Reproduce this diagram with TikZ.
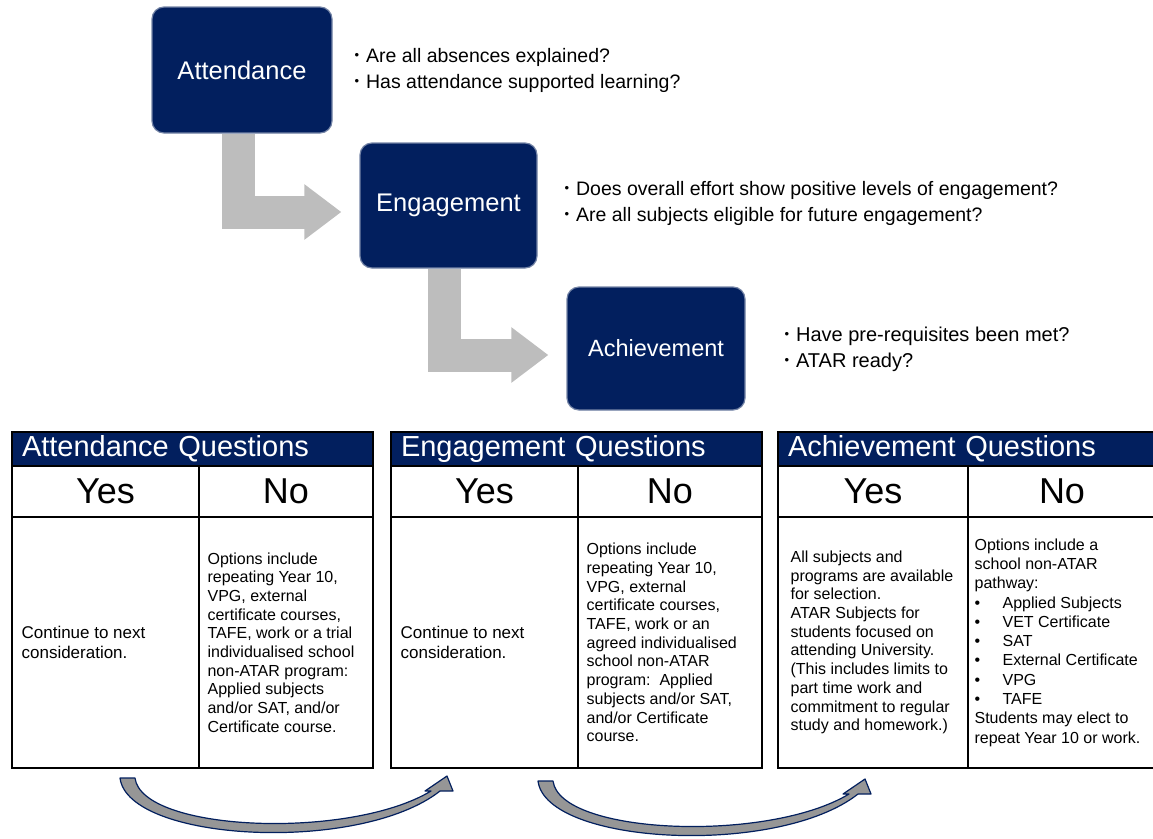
\documentclass[tikz,border=0pt]{standalone}
\usepackage{fontspec}
\setmainfont{Liberation Sans}
\usetikzlibrary{arrows.meta}

\definecolor{boxblue}{RGB}{2,31,94}
\definecolor{bendgrey}{RGB}{150,150,150}
\newcommand{\qdot}{\raisebox{2.5pt}{\fontsize{13}{13}\selectfont\textbullet}\hspace{7pt}}
\newcommand{\ldot}{\makebox[28pt][l]{\textbullet}}

\begin{document}
\begin{tikzpicture}[x=1pt, y=-1pt,
    stage/.style ={
        rectangle,
        rounded corners=12pt,
        fill=boxblue,
        draw=boxblue!55!white,
        line width=1.2pt,
        text=white,
        minimum width=178pt,
        minimum height=125pt
    },
    ask/.style ={
        anchor=west,
        align=left,
        font=\fontsize{19.5}{26}\selectfont
    },
    lshape/.style ={
        draw=black!26,
        line width=33pt,
        line join=miter,
        shorten >=18pt,
        -{Triangle[width=53pt,length=37pt]}
    },
    headbar/.style ={
        rectangle,
        fill=boxblue,
        draw=black,
        line width=1.2pt,
        text=white,
        align=left,
        inner sep=0pt,
        minimum height=34pt,
        font=\fontsize{29}{30}\selectfont
    },
    cell/.style ={
        rectangle,
        draw=black,
        line width=1.2pt,
        inner sep=0pt
    },
    yesno/.style ={
        cell,
        minimum height=51pt,
        font=\fontsize{36}{38}\selectfont
    },
    body/.style ={
        anchor=west,
        align=left,
        inner sep=0pt,
        font=\fontsize{16}{18.7}\selectfont
    },
    sweep/.style ={
        fill=bendgrey,
        draw=boxblue,
        line width=1.2pt,
        line join=round
    }
    ]
    \useasboundingbox (0,0) rectangle (1153,838);

    % stages
    \node[stage, minimum width=180pt, minimum height=126pt, font=\fontsize{25.5}{26}\selectfont] (att) at (242,70) {Attendance};
    \node[stage, minimum width=177pt, font=\fontsize{25.5}{26}\selectfont] (eng) at (448.5,205.5) {Engagement};
    \node[stage, minimum height=123pt, font=\fontsize{23.5}{24}\selectfont] (ach) at (656,348.5) {Achievement};

    \node[ask] (attq) at (351,70) {\qdot Are all absences explained?\\\qdot Has attendance supported learning?};
    \node[ask] (engq) at (561,203) {\qdot Does overall effort show positive levels of engagement?\\\qdot Are all subjects eligible for future engagement?};
    \node[ask, font=\fontsize{20}{26}\selectfont] (achq) at (781,349) {\qdot Have pre-requisites been met?\\\qdot ATAR ready?};

    \draw[lshape] ([xshift=-4pt]att.south) |- ([yshift=-6.5pt]eng.west);
    \draw[lshape] ([xshift=-4pt]eng.south) |- ([yshift=-6.5pt]ach.west);

    % question tables
    \foreach \n/\l/\d/\r/\title in {a/12/199/373/Attendance, e/391/578/762/Engagement,
                                    c/778/968/1156/Achievement} {
        \node[headbar, minimum width={(\r-\l)*1pt}, text width={(\r-\l-20)*1pt}] (h\n) at ({(\l+\r)/2},449) {\title\ Questions};
        \node[yesno, minimum width={(\d-\l)*1pt}] (y\n) at ({(\l+\d)/2},491.5) {Yes};
        \node[yesno, minimum width={(\r-\d)*1pt}] (n\n) at ({(\d+\r)/2},491.5) {No};
        \node[cell, minimum width={(\d-\l)*1pt}, minimum height=251pt] (by\n) at ({(\l+\d)/2},642.5) {};
        \node[cell, minimum width={(\r-\d)*1pt}, minimum height=251pt] (bn\n) at ({(\d+\r)/2},642.5) {};
    }

    \node[body, font=\fontsize{17}{19.5}\selectfont] (ay) at ([xshift=10pt]bya.west) {Continue to next\\consideration.};
    \node[body] (an) at ([xshift=9pt]bna.west) {Options include\\repeating Year 10,\\VPG, external\\certificate courses,\\TAFE, work or a trial\\individualised school\\non-ATAR program:\\Applied subjects\\and/or SAT, and/or\\Certificate course.};
    \node[body, font=\fontsize{17}{19.5}\selectfont] (ey) at ([xshift=10pt]bye.west) {Continue to next\\consideration.};
    \node[body] (en) at ([xshift=9pt]bne.west) {Options include\\repeating Year 10,\\VPG, external\\certificate courses,\\TAFE, work or an\\agreed individualised\\school non-ATAR\\program:\ \ Applied\\subjects and/or SAT,\\and/or Certificate\\course.};
    \node[body] (cy) at ([xshift=13pt]byc.west) {All subjects and\\programs are available\\for selection.\\ATAR Subjects for\\students focused on\\attending University.\\(This includes limits to\\part time work and\\commitment to regular\\study and homework.)};
    \node[body, font=\fontsize{16}{19.3}\selectfont] (cn) at ([xshift=7pt]bnc.west) {Options include a\\school non-ATAR\\pathway:\\\ldot Applied Subjects\\\ldot VET Certificate\\\ldot SAT\\\ldot External Certificate\\\ldot VPG\\\ldot TAFE\\Students may elect to\\repeat Year 10 or work.};

    % sweeping arrows under the tables
    \coordinate (s1) at (120,778);
    \coordinate (s2) at (538,781);
    \foreach \s in {s1, s2}
        \filldraw[sweep, shift={(\s)}] (0,0) .. controls (8,64) and (240,76) .. (320,13)
            -- (333,13) -- (327,-2) -- (305,13) -- (311,13)
            .. controls (230,62) and (22,54) .. (15,0) -- cycle;

\end{tikzpicture}
\end{document}
